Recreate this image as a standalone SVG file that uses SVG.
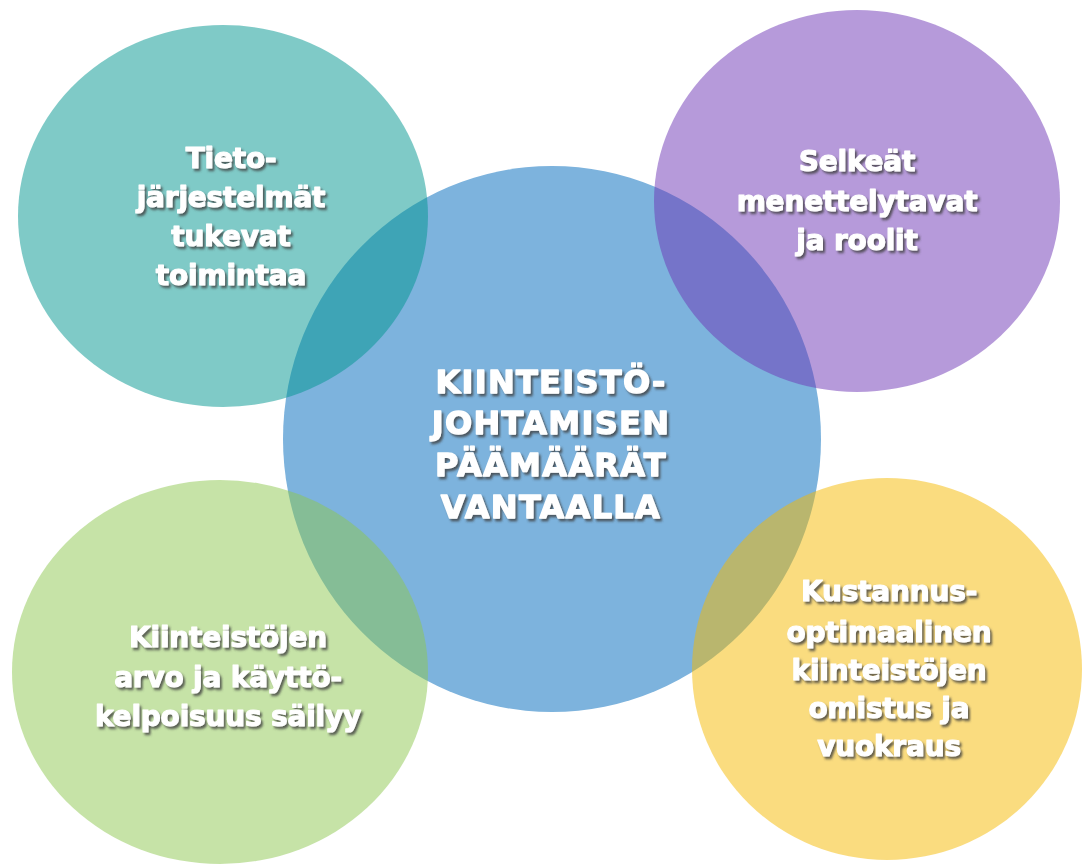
<svg xmlns="http://www.w3.org/2000/svg" width="1083" height="865" viewBox="0 0 1083 865">
<defs>
<filter id="sh" x="-10%" y="-30%" width="130%" height="170%">
<feDropShadow dx="2" dy="2.5" stdDeviation="1.1" flood-color="#3c3c3c" flood-opacity="0.8"/>
</filter>
</defs>
<style>
.t{font-family:"DejaVu Sans","Verdana",sans-serif;font-weight:bold;fill:#ffffff;stroke:#ffffff;stroke-linejoin:round;text-anchor:middle;filter:url(#sh)}
.s{font-size:28px;letter-spacing:-0.2px;stroke-width:1.1px}
.c{font-size:32px;letter-spacing:1.3px;stroke-width:1.3px}
.sat{fill-opacity:0.5}
</style>
<rect width="1083" height="865" fill="#ffffff"/>
<g id="connectors"></g>
<g id="center">
<ellipse cx="552" cy="439" rx="269" ry="273" fill="#7db3dd"/>
</g>
<g id="teal">
<ellipse class="sat" cx="223" cy="216" rx="205" ry="191" fill="#00958f"/>
</g>
<g id="purple">
<ellipse class="sat" cx="857" cy="201" rx="203" ry="191" fill="#6d35b5"/>
</g>
<g id="green">
<ellipse class="sat" cx="220" cy="672" rx="208" ry="192" fill="#8dc74f"/>
</g>
<g id="yellow">
<ellipse class="sat" cx="887" cy="669" rx="195" ry="191" fill="#f5b900"/>
</g>
<g id="labels">
<text class="t c"><tspan x="551" y="393">KIINTEISTÖ-</tspan><tspan x="551" y="434">JOHTAMISEN</tspan><tspan x="551" y="476">PÄÄMÄÄRÄT</tspan><tspan x="551" y="518">VANTAALLA</tspan></text>
<text class="t s"><tspan x="231" y="168">Tieto-</tspan><tspan x="231" y="207">järjestelmät</tspan><tspan x="231" y="246">tukevat</tspan><tspan x="231" y="285">toimintaa</tspan></text>
<text class="t s"><tspan x="857" y="171">Selkeät</tspan><tspan x="857" y="211">menettelytavat</tspan><tspan x="857" y="250">ja roolit</tspan></text>
<text class="t s"><tspan x="228" y="647">Kiinteistöjen</tspan><tspan x="228" y="687">arvo ja käyttö-</tspan><tspan x="228" y="726">kelpoisuus säilyy</tspan></text>
<text class="t s"><tspan x="889" y="601">Kustannus-</tspan><tspan x="889" y="642">optimaalinen</tspan><tspan x="889" y="680">kiinteistöjen</tspan><tspan x="889" y="718">omistus ja</tspan><tspan x="889" y="756">vuokraus</tspan></text>
</g>
</svg>
